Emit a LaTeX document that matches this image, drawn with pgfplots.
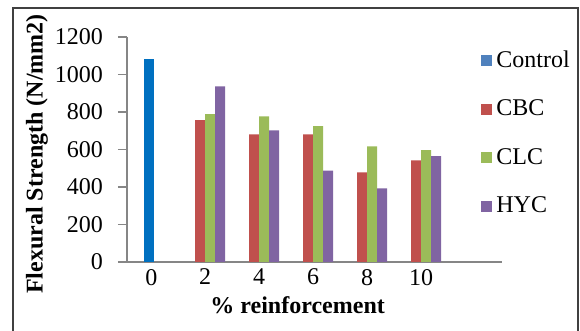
\documentclass[border=0pt]{standalone}
\usepackage{fontspec}
\setmainfont{Liberation Serif}
\usepackage{pgfplots}
\pgfplotsset{compat=1.18}
\definecolor{cctrl}{HTML}{0070C0}
\definecolor{cctrlL}{HTML}{4F81BD}
\definecolor{ccbc}{HTML}{C0504D}
\definecolor{cclc}{HTML}{9BBB59}
\definecolor{chyc}{HTML}{8064A2}
\definecolor{axgray}{HTML}{868686}
\begin{document}
\begin{tikzpicture}
\useasboundingbox (-63.5pt,-34.5pt) rectangle (226.5pt,131pt);
\draw[line width=1pt, color=black!75] (-57pt,-40pt) -- (-57pt,127pt) -- (225.5pt,127pt) -- (225.5pt,-40pt);
\begin{axis}[
  at={(0,0)}, anchor=south west,
  scale only axis, width=187.5pt, height=112.5pt,
  xmin=-0.45, xmax=6.5, ymin=0, ymax=1200,
  ybar, bar width=5pt,
  axis x line*=bottom, axis y line*=left,
  axis line style={draw=axgray, line width=0.75pt},
  xtick={0,1,2,3,4,5}, xticklabels={0,2,4,6,8,10},
  ytick={0,200,...,1200},
  xtick style={draw=none},
  ytick style={draw=axgray, line width=0.75pt},
  tick align=outside, major tick length=4.5pt,
  /pgf/number format/assume math mode=true,
  /pgf/number format/1000 sep={},
  tick label style={font=\fontsize{12}{14}\selectfont},
  yticklabel style={xshift=-4pt},
  xticklabel style={anchor=north, yshift=4.5pt},
  xlabel={\textbf{\% reinforcement}},
  ylabel={\textbf{Flexural Strength (N/mm2)}},
  label style={font=\fontsize{12}{14}\selectfont},
  xlabel style={at={(axis description cs:0.455,-0.19)}, anchor=center},
  ylabel style={at={(axis description cs:-0.24,0.48)}, anchor=center},
  legend style={draw=none, fill=none, at={(axis description cs:0.944,0.96)}, anchor=north west,
    font=\fontsize{12}{14}\selectfont, inner sep=0pt, row sep=10.8pt,
    /tikz/every even column/.append style={column sep=0pt}},
  legend cell align=left,
]
\addplot[fill=cctrl, draw=none, bar shift=-1.25pt,
  legend image code/.code={\fill[cctrlL] (0pt,-2.75pt) rectangle (5.5pt,2.75pt);}]
  coordinates {(0,1085)};
\addplot[fill=ccbc, draw=none, bar shift=-2.5pt,
  legend image code/.code={\fill[ccbc] (0pt,-2.75pt) rectangle (5.5pt,2.75pt);}]
  coordinates {(1,757) (2,681) (3,681) (4,478) (5,542)};
\addplot[fill=cclc, draw=none, bar shift=2.5pt,
  legend image code/.code={\fill[cclc] (0pt,-2.75pt) rectangle (5.5pt,2.75pt);}]
  coordinates {(1,788) (2,777) (3,724) (4,617) (5,596)};
\addplot[fill=chyc, draw=none, bar shift=7.5pt,
  legend image code/.code={\fill[chyc] (0pt,-2.75pt) rectangle (5.5pt,2.75pt);}]
  coordinates {(1,937) (2,702) (3,487) (4,393) (5,565)};
\legend{Control,CBC,CLC,HYC}
\end{axis}
\end{tikzpicture}
\end{document}
